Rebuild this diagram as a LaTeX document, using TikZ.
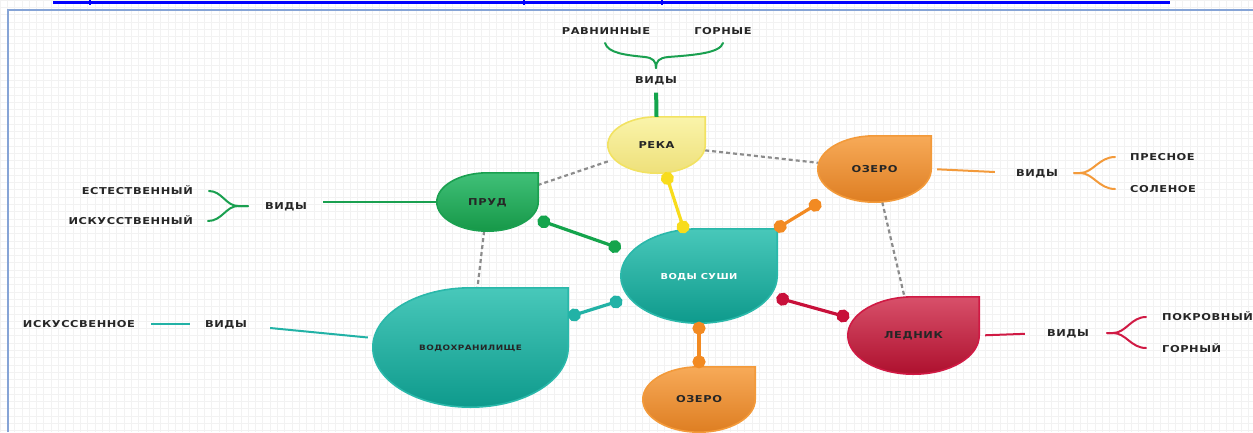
\documentclass[tikz,border=0pt]{standalone}
\usepackage{fontspec}
\newfontfamily\lblfont{DejaVu Sans}[FakeStretch=1.2,LetterSpace=6]
\usetikzlibrary{calc,arrows.meta,backgrounds}
\definecolor{frameC}{HTML}{86A4D6}
\definecolor{linkC}{HTML}{0000FF}
\definecolor{grnT}{HTML}{40C078}\definecolor{grnB}{HTML}{169848}\definecolor{grnE}{HTML}{1AA050}\definecolor{grnS}{HTML}{14A44C}
\definecolor{yelT}{HTML}{FAF4AA}\definecolor{yelB}{HTML}{EEE07A}\definecolor{yelE}{HTML}{F2E262}\definecolor{yelS}{HTML}{F8DC1C}
\definecolor{orgT}{HTML}{F7AA58}\definecolor{orgB}{HTML}{DE7E22}\definecolor{orgE}{HTML}{F39A3A}\definecolor{orgS}{HTML}{F28A22}
\definecolor{tealT}{HTML}{48C8BA}\definecolor{tealB}{HTML}{0E9A8C}\definecolor{tealE}{HTML}{2AB8AA}\definecolor{tealS}{HTML}{22B2A6}
\definecolor{redT}{HTML}{D8506A}\definecolor{redB}{HTML}{AE102E}\definecolor{redE}{HTML}{D01A44}\definecolor{redS}{HTML}{C8103A}
\newcommand\dropfill[4]{%
  \path[top color=#2,bottom color=#3,draw=#4,line width=1.6pt]
    let \p1=($(#1.north east)-(#1.south west)$) in
    (#1.north east) -- (#1.north)
    arc[start angle=90,end angle=270,x radius=0.5*\x1,y radius=0.5*\y1]
    arc[start angle=270,end angle=360,x radius=0.5*\x1,y radius=0.5*\y1]
    -- cycle;}
\tikzset{
  lbl/.style={font=\lblfont\bfseries\fontsize{9.5}{11}\selectfont, text=black!85, inner sep=0pt, text height=6.9pt, text depth=0pt},
  box/.style={lbl, shape=rectangle},
  dashline/.style={draw=black!45, line width=2.2pt, dash pattern=on 4pt off 3pt},
  stick/.style={draw=#1, line width=3.2pt, {Circle[length=13pt,width=13pt]}-{Circle[length=13pt,width=13pt]}},
  branch/.style={draw=#1, line width=2pt},
  brc/.style={draw=#1, line width=2pt, line cap=round},
}
\begin{document}
\begin{tikzpicture}[x=1pt,y=1pt]
\useasboundingbox (0,0) rectangle (1253,-432);
% main nodes
\node[box, minimum width=97pt, minimum height=56pt] (reka) at (656.5,-145) {РЕКА};
\node[box, minimum width=101pt, minimum height=58pt] (prud) at (487.5,-202) {ПРУД};
\node[box, minimum width=113pt, minimum height=66pt] (ozA) at (874.5,-169) {ОЗЕРО};
\node[box, minimum width=156pt, minimum height=94pt, text=white, font=\lblfont\bfseries\fontsize{8.2}{10}\selectfont] (vody) at (699,-276) {ВОДЫ СУШИ};
\node[box, minimum width=195pt, minimum height=119pt, font=\lblfont\bfseries\fontsize{7.4}{9}\selectfont] (vodokhr) at (470.5,-347.5) {ВОДОХРАНИЛИЩЕ};
\node[box, minimum width=131pt, minimum height=77pt] (lednik) at (913.5,-335.5) {ЛЕДНИК};
\node[box, minimum width=112pt, minimum height=65pt] (ozB) at (699,-399.5) {ОЗЕРО};
% labels
\node[lbl] (vidyR) at (656,-80) {ВИДЫ};
\node[lbl] (ravn) at (606,-31) {РАВНИННЫЕ};
\node[lbl] (gorn) at (723,-31) {ГОРНЫЕ};
\node[lbl] (vidyP) at (286,-206) {ВИДЫ};
\node[lbl, anchor=east] (estest) at (193,-191) {ЕСТЕСТВЕННЫЙ};
\node[lbl, anchor=east] (iskus) at (193,-221) {ИСКУССТВЕННЫЙ};
\node[lbl] (vidyO) at (1037,-173) {ВИДЫ};
\node[lbl, anchor=west] (presn) at (1130,-157) {ПРЕСНОЕ};
\node[lbl, anchor=west] (solen) at (1130,-189) {СОЛЕНОЕ};
\node[lbl] (vidyL) at (1068,-333) {ВИДЫ};
\node[lbl, anchor=west] (pokr) at (1162,-317) {ПОКРОВНЫЙ};
\node[lbl, anchor=west] (gornyi) at (1162,-349) {ГОРНЫЙ};
\node[lbl] (vidyV) at (226,-324) {ВИДЫ};
\node[lbl] (iskusV) at (79,-324) {ИСКУССВЕННОЕ};
\begin{scope}[on background layer]
  \draw[black!5, line width=0.7pt] (0,-432) grid[step=7.3pt] (1253,0);
  \draw[frameC, line width=1.6pt] (8,-432) -- (8,-10) -- (1253,-10);
  \draw[linkC, line width=3pt] (53,-2.5) -- (1170,-2.5);
  \draw[linkC, line width=1.8pt] (90,0) -- (90,-5) (524,0) -- (524,-5) (662,0) -- (662,-5);
  \draw[dashline] (reka) -- (prud);
  \draw[dashline] (reka) -- (ozA);
  \draw[dashline] (prud) -- (vodokhr);
  \draw[dashline] (ozA) -- (lednik);
  \dropfill{reka}{yelT}{yelB}{yelE}
  \dropfill{prud}{grnT}{grnB}{grnE}
  \dropfill{ozA}{orgT}{orgB}{orgE}
  \dropfill{vody}{tealT}{tealB}{tealE}
  \dropfill{vodokhr}{tealT}{tealB}{tealE}
  \dropfill{lednik}{redT}{redB}{redE}
  \dropfill{ozB}{orgT}{orgB}{orgE}
\end{scope}
% ball-and-stick connectors
\draw[stick=yelS, shorten <=-1pt, shorten >=-4.5pt] (reka) -- (vody);
\draw[stick=grnS, shorten <=-0.5pt, shorten >=0pt] (prud) -- (vody);
\draw[stick=orgS, shorten <=-0.7pt, shorten >=-2pt] (ozA) -- (vody);
\draw[stick=tealS, shorten <=0pt, shorten >=-1.5pt] (vodokhr) -- (vody);
\draw[stick=redS, shorten <=-0.8pt, shorten >=-1.5pt] (vody) -- (lednik);
\draw[stick=orgS, shorten <=-1.5pt, shorten >=-1.5pt] (vody) -- (ozB);
% river branch
\draw[grnS, line width=4pt, shorten >=9pt] (reka.north) -- (vidyR.south);
\coordinate (rT) at (656,-68);
\coordinate (rA) at (605,-43);
\coordinate (rB) at (723,-43);
\draw[brc=grnE] (rA) .. controls (608,-53) and (625,-55) .. (645,-57) .. controls (653,-58) and (656,-61) .. (rT);
\draw[brc=grnE] (rB) .. controls (720,-53) and (695,-55) .. (668,-57) .. controls (659,-58) and (656,-61) .. (rT);
% pond branch
\draw[branch=grnE, shorten >=16pt] (prud.west) -- (prud.west -| vidyP.east);
\coordinate (pT) at (248,-206);
\coordinate (pA) at (209,-191);
\coordinate (pB) at (208,-221);
\draw[brc=grnE] (pA) .. controls (222,-191) and (226,-206) .. (238,-206) -- (pT);
\draw[brc=grnE] (pB) .. controls (222,-221) and (226,-206) .. (238,-206) -- (pT);
% lake branch
\draw[branch=orgE, shorten <=6pt, shorten >=21pt] (ozA.east) -- (vidyO.west);
\coordinate (oT) at (1074,-173);
\coordinate (oA) at (1115,-157);
\coordinate (oB) at (1115,-189);
\draw[brc=orgE] (oT) -- (1080,-173) .. controls (1093,-173) and (1099,-157) .. (oA);
\draw[brc=orgE] (oT) -- (1080,-173) .. controls (1093,-173) and (1099,-189) .. (oB);
% glacier branch
\draw[branch=redE, shorten <=6pt, shorten >=22pt] (lednik.east) -- (vidyL.west);
\coordinate (lT) at (1107,-333);
\coordinate (lA) at (1146,-317);
\coordinate (lB) at (1146,-348);
\draw[brc=redE] (lT) -- (1113,-333) .. controls (1126,-333) and (1131,-317) .. (lA);
\draw[brc=redE] (lT) -- (1113,-333) .. controls (1126,-333) and (1131,-348) .. (lB);
% reservoir branch
\draw[branch=tealS] ([shift={(-5pt,10pt)}]vodokhr.west) -- ([shift={(23pt,-4pt)}]vidyV.east);
\draw[branch=tealS, shorten <=16pt, shorten >=15pt] (iskusV.east) -- (vidyV.west);
\end{tikzpicture}
\end{document}
